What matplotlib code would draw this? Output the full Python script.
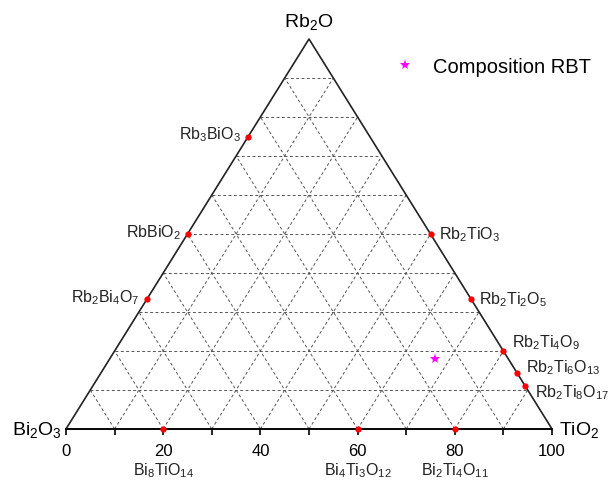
import numpy as np
import matplotlib
matplotlib.use('Agg')
import matplotlib.pyplot as plt

plt.rcParams['font.family'] = ['Liberation Sans', 'DejaVu Sans']
plt.rcParams['mathtext.fontset'] = 'custom'
plt.rcParams['mathtext.rm'] = 'Liberation Sans'
plt.rcParams['mathtext.it'] = 'Liberation Sans'
plt.rcParams['mathtext.bf'] = 'Liberation Sans:bold'

# Compuestos conocidos (porcentaje molar: Bi2O3, TiO2, Rb2O)
names = [r'Rb$_3$BiO$_3$', r'RbBiO$_2$', r'Rb$_2$Bi$_4$O$_7$',
         r'Rb$_2$TiO$_3$', r'Rb$_2$Ti$_2$O$_5$', r'Rb$_2$Ti$_4$O$_9$',
         r'Rb$_2$Ti$_6$O$_{13}$', r'Rb$_2$Ti$_8$O$_{17}$',
         r'Bi$_8$TiO$_{14}$', r'Bi$_4$Ti$_3$O$_{12}$', r'Bi$_2$Ti$_4$O$_{11}$']
bi2o3 = [25, 50, 66.7, 0, 0, 0, 0, 0, 80, 40, 20]
tio2 = [0, 0, 0, 50, 66.7, 80, 85.7, 88.9, 20, 60, 80]
rb2o = [75, 50, 33.3, 50, 33.3, 20, 14.3, 11.1, 0, 0, 0]

# Composicion RBT
rbt_tio2 = [67]
rbt_rb2o = [18]

# desplazamiento de etiquetas (puntos) y alineacion
offsets = [(-5, 2, 'right'), (-5, 2, 'right'), (-5, 2, 'right'),
           (6, 0, 'left'), (6, 0, 'left'), (6, 7, 'left'),
           (6, 5, 'left'), (7, -4, 'left'),
           (0, -29, 'center'), (0, -29, 'center'), (0, -29, 'center')]


def to_xy(t, r):
    t = np.asarray(t, dtype=float)
    r = np.asarray(r, dtype=float)
    return t + r / 2, r


fig = plt.figure(figsize=(6.11, 4.85), dpi=100)
ax = fig.add_axes([66 / 611, 55 / 485, 486 / 611, 390 / 485])
ax.set_xlim(0, 100)
ax.set_ylim(0, 100)
for s in ['top', 'left', 'right']:
    ax.spines[s].set_visible(False)
ax.spines['bottom'].set_linewidth(1.2)
ax.set_yticks([])
ax.set_xticks(np.arange(0, 101, 20))
ax.set_xticks(np.arange(10, 100, 20), minor=True)
ax.tick_params(axis='x', which='both', direction='out', length=4, width=1.2,
               labelsize=12, pad=6)

# rejilla
for k in range(10, 100, 10):
    gs = dict(color='#555555', linestyle=(0, (3, 2.5)), linewidth=0.7, zorder=1)
    ax.plot([k / 2, 100 - k / 2], [k, k], **gs)
    x, y = to_xy([k, k], [0, 100 - k])
    ax.plot(x, y, **gs)
    x, y = to_xy([100 - k, 0], [0, 100 - k])
    ax.plot(x, y, **gs)

# bordes del triangulo
x, y = to_xy([0, 100, 0, 0], [0, 0, 100, 0])
ax.plot(x, y, color='#222222', linewidth=1.2, zorder=2, clip_on=False)

# compuestos
px, py = to_xy(tio2, rb2o)
ax.plot(px, py, 'o', color='red', markersize=4.5, markeredgewidth=0,
        zorder=4, clip_on=False)
for name, x0, y0, (dx, dy, ha) in zip(names, px, py, offsets):
    ax.annotate(name, (x0, y0), xytext=(dx, dy), textcoords='offset points',
                ha=ha, va='center', fontsize=11.5, color='#222222',
                annotation_clip=False)

sx, sy = to_xy(rbt_tio2, rbt_rb2o)
ax.plot(sx, sy, '*', color='magenta', markersize=8, markeredgewidth=0,
        zorder=5, label='Composition RBT')

# vertices
ax.text(-0.8, 0, r'Bi$_2$O$_3$', ha='right', va='center', fontsize=14)
ax.text(101.5, 0, r'TiO$_2$', ha='left', va='center', fontsize=14)
ax.text(50, 102, r'Rb$_2$O', ha='center', va='bottom', fontsize=14)

ax.legend(loc='center left', bbox_to_anchor=(383 / 611, 1 - 68 / 485),
          bbox_transform=fig.transFigure, frameon=False, fontsize=14.5,
          handlelength=1.2, handletextpad=0.8, borderpad=0)

fig.savefig('out.png', dpi=100)
